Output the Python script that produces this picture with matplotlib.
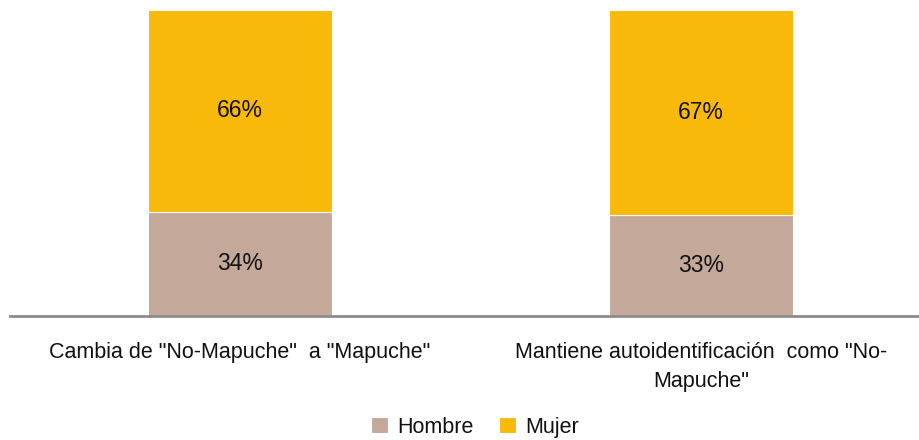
import matplotlib.pyplot as plt
import numpy as np

categorias = ['Cambia de "No-Mapuche"  a "Mapuche"',
              'Mantiene autoidentificación  como "No-\nMapuche"']
hombre = [34, 33]
mujer = [66, 67]
series = ["Hombre", "Mujer"]
colores = ["#C4A99A", "#F9B90A"]

plt.rcParams["font.family"] = ["Liberation Sans Narrow", "Liberation Sans", "DejaVu Sans"]

fig = plt.figure(figsize=(9.2, 4.4), dpi=100)
ax = fig.add_axes([10 / 920, 1 - 316 / 440, 910 / 920, 306 / 440])

x = np.arange(len(categorias))
ancho = 0.4
b1 = ax.bar(x, hombre, ancho, color=colores[0], label=series[0],
            edgecolor="white", linewidth=0.8)
b2 = ax.bar(x, mujer, ancho, bottom=hombre, color=colores[1], label=series[1],
            edgecolor="white", linewidth=0.8)

for barras, vals in [(b1, hombre), (b2, mujer)]:
    for rect, v in zip(barras, vals):
        ax.text(rect.get_x() + rect.get_width() / 2,
                rect.get_y() + rect.get_height() / 2,
                f"{v}%", ha="center", va="center", fontsize=16.5, color="#111111")

ax.set_xlim(-0.499, 1.475)
ax.set_ylim(0, 100)
ax.set_yticks([])
ax.set_xticks(x)
ax.set_xticklabels(categorias, fontsize=15.5, linespacing=1.45, color="#111111")
ax.tick_params(axis="x", length=0, pad=19)
for s in ["top", "right", "left"]:
    ax.spines[s].set_visible(False)
ax.spines["bottom"].set_color("#8C8C8C")
ax.spines["bottom"].set_linewidth(2)

fig.legend(loc="center", bbox_to_anchor=(475 / 920, 1 - 427 / 440), ncol=2,
           frameon=False, fontsize=15.5, handlelength=0.8, handleheight=0.8,
           handletextpad=0.4, columnspacing=1.2, borderaxespad=0,
           labelcolor="#111111")

fig.savefig("out.png", dpi=100)
